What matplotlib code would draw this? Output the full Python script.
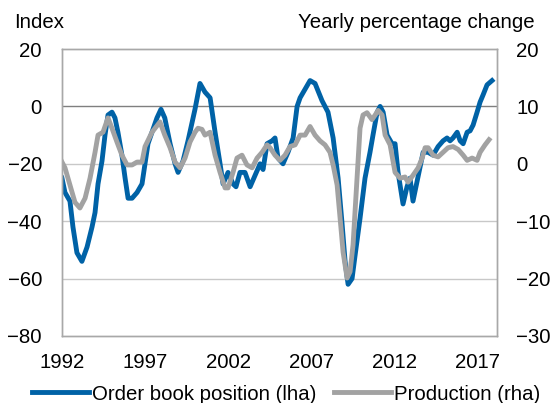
import matplotlib
matplotlib.use("Agg")
import matplotlib.pyplot as plt
import numpy as np

plt.rcParams['font.family'] = ['Liberation Sans', 'DejaVu Sans']
plt.rcParams['font.size'] = 14.7

# order book position (left axis, index)
ob_years = [1992.0, 1992.18, 1992.48, 1992.66, 1992.9, 1993.2, 1993.51, 1993.81, 1993.99, 1994.17,
            1994.41, 1994.59, 1994.77, 1995.01, 1995.19, 1995.37, 1995.61, 1995.8, 1995.98, 1996.22,
            1996.52, 1996.82, 1997.0, 1997.18, 1997.42, 1997.72, 1997.96, 1998.19, 1998.51, 1998.81,
            1998.99, 1999.29, 1999.59, 2000.01, 2000.31, 2000.61, 2000.92, 2001.22, 2001.52, 2001.7,
            2002.0, 2002.3, 2002.48, 2002.72, 2003.02, 2003.33, 2003.63, 2003.93, 2004.11, 2004.35,
            2004.65, 2004.83, 2005.01, 2005.31, 2005.61, 2005.92, 2006.16, 2006.34, 2006.64, 2006.94,
            2007.24, 2007.66, 2008.02, 2008.33, 2008.63, 2008.87, 2009.05, 2009.23, 2009.47, 2009.65,
            2009.95, 2010.25, 2010.55, 2010.73, 2010.98, 2011.16, 2011.34, 2011.58, 2011.88, 2012.06,
            2012.24, 2012.54, 2012.78, 2012.96, 2013.14, 2013.39, 2013.57, 2013.75, 2014.05, 2014.35,
            2014.65, 2014.95, 2015.19, 2015.37, 2015.55, 2015.8, 2015.98, 2016.16, 2016.4, 2016.58,
            2016.76, 2017.0, 2017.18, 2017.36, 2017.6, 2017.9]
ob_vals = [-25, -30, -33, -42, -51, -54, -49, -42, -37, -27,
           -19, -10, -3, -2, -4, -9, -17, -25, -32, -32,
           -30, -27, -20, -13, -9, -4, -1, -4, -13, -20,
           -23, -19, -12, -1, 8, 5, 3, -9, -20, -27,
           -23, -27, -28, -23, -23, -28, -24, -20, -22, -13,
           -12, -11, -18, -20, -16, -11, 0, 3, 6, 9,
           8, 2, -2, -11, -25, -41, -54, -62, -60, -52,
           -39, -25, -16, -10, -2, 0, -2, -10, -13, -13,
           -23, -34, -28, -25, -33, -26, -21, -16, -16, -17,
           -14, -12, -11, -12, -11, -9, -12, -13, -9, -8.5,
           -6.5, -2, 1.5, 4, 7.5, 9]

# production (right axis, yearly % change)
pr_years = [1992.0, 1992.18, 1992.48, 1992.78, 1993.08, 1993.39, 1993.69, 1993.99, 1994.17, 1994.47,
            1994.77, 1995.01, 1995.31, 1995.61, 1995.92, 1996.22, 1996.52, 1996.82, 1997.0, 1997.42,
            1997.9, 1998.19, 1998.51, 1998.81, 1999.11, 1999.41, 1999.71, 2000.01, 2000.19, 2000.43,
            2000.61, 2000.92, 2001.22, 2001.52, 2001.82, 2002.0, 2002.3, 2002.54, 2002.84, 2003.14,
            2003.45, 2003.75, 2004.05, 2004.35, 2004.53, 2004.83, 2005.13, 2005.43, 2005.73, 2006.04,
            2006.34, 2006.64, 2006.94, 2007.24, 2007.54, 2007.84, 2008.14, 2008.33, 2008.57, 2008.75,
            2008.93, 2009.17, 2009.35, 2009.53, 2009.77, 2009.95, 2010.13, 2010.37, 2010.67, 2010.86,
            2011.04, 2011.28, 2011.46, 2011.76, 2012.06, 2012.36, 2012.66, 2012.84, 2013.14, 2013.45,
            2013.69, 2013.87, 2014.05, 2014.35, 2014.65, 2014.95, 2015.25, 2015.55, 2015.86, 2016.16,
            2016.4, 2016.7, 2017.0, 2017.18, 2017.48, 2017.72]
pr_vals = [0.3, -0.7, -3.7, -6.7, -7.7, -6, -2.5, 2, 5, 5.5,
           8, 6.2, 3.8, 1.5, -0.2, -0.2, 0.3, 0.3, 3, 5.5,
           7.3, 5, 2.8, 0.3, -0.7, 1, 3.8, 5.5, 6.2, 6,
           5, 5.5, 1.5, -1.5, -4.2, -4.2, -1.5, 1, 1.5, -0.2,
           -0.7, 1, 2, 3.3, 2.8, 1.5, 0.6, 1.5, 3, 3.3,
           5, 5, 6.5, 5, 4, 3.3, 2, -0.2, -3.7, -9.5,
           -15.4, -19.9, -18.8, -14.1, -2.5, 6.2, 8.5, 8.9, 7.7, 8.5,
           9.3, 8.5, 5, 3.3, -1.5, -2.5, -2.3, -3.2, -2, -0.7,
           1, 2.8, 2.8, 1.5, 1.2, 2, 2.8, 3, 2.5, 1.5,
           0.6, 1, 0.6, 2, 3.3, 4.2]

xticks = [1992, 1997, 2002, 2007, 2012, 2017]
blue = '#0062A6'
grey = '#A2A2A2'

fig = plt.figure(figsize=(5.52, 4.03), dpi=100)
ax = fig.add_axes([0.1123, 0.1663, 0.7881, 0.7121])
ax2 = ax.twinx()

ax.set_xlim(1992, 2018.2)
ax.set_ylim(-80, 20)
ax2.set_ylim(-30, 20)
ax.set_yticks(np.arange(-80, 21, 20))
ax2.set_yticks(np.arange(-30, 21, 10))
ax.set_xticks(xticks)

for y in [-60, -40, -20]:
    ax.axhline(y, color='#C8C8C8', lw=1, zorder=0)
ax.axhline(0, color='#7F7F7F', lw=1, zorder=0)

l1, = ax.plot(ob_years, ob_vals, color=blue, lw=3.5, solid_joinstyle='round',
              label='Order book position (lha)')
l2, = ax2.plot(pr_years, pr_vals, color=grey, lw=3.5, solid_joinstyle='round',
               label='Production (rha)')

for a in (ax, ax2):
    for s in a.spines.values():
        s.set_color('#A8A8A8')
        s.set_linewidth(1)
    a.tick_params(length=0)
ax.tick_params(axis='y', pad=14.4)
ax.tick_params(axis='x', pad=12.5)
ax2.tick_params(axis='y', pad=13.7)
for t in ax2.get_yticklabels():
    t.set_horizontalalignment('left')

fig.text(0.025, 0.945, 'Index', va='center', ha='left')
fig.text(0.968, 0.945, 'Yearly percentage change', va='center', ha='right')

fig.legend(handles=[l1, l2], loc='center', bbox_to_anchor=(0.518, 0.022), ncol=2,
           frameon=False, handlelength=2.8, handletextpad=0.15, columnspacing=0.85,
           borderaxespad=0, borderpad=0)

fig.savefig('out.png', dpi=100)
